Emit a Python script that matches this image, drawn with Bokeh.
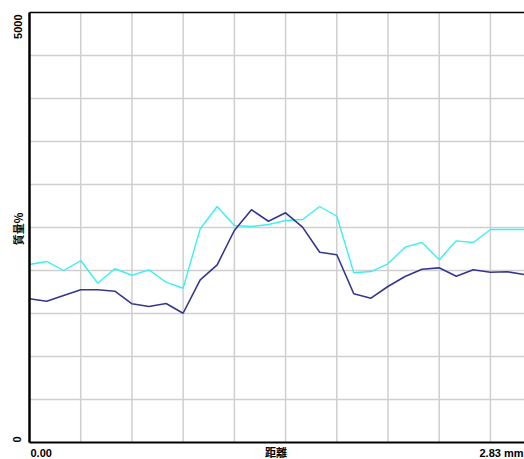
import math
from bokeh.plotting import figure
from bokeh.models import Range1d, Label
from bokeh.embed import file_html
from bokeh.resources import INLINE

# distance along the line scan (mm)
distance = [0.000, 0.098, 0.195, 0.293, 0.390, 0.488, 0.586, 0.683, 0.781, 0.878,
            0.976, 1.073, 1.171, 1.269, 1.366, 1.464, 1.561, 1.659, 1.757, 1.854,
            1.952, 2.049, 2.147, 2.244, 2.342, 2.440, 2.537, 2.635, 2.732, 2.830]

# series values (質量 units)
cyan_series = [2070, 2105, 2000, 2116, 1852, 2020, 1945, 2008, 1864, 1794,
               2485, 2744, 2523, 2512, 2535, 2581, 2593, 2744, 2631, 1973,
               1988, 2078, 2271, 2326, 2124, 2345, 2326, 2477, 2477, 2477]
navy_series = [1671, 1643, 1709, 1776, 1776, 1759, 1613, 1581, 1616, 1503,
               1892, 2066, 2465, 2706, 2573, 2671, 2504, 2213, 2183, 1729,
               1678, 1814, 1930, 2015, 2031, 1934, 2008, 1980, 1985, 1953]

x_grid = [0.2928 * k for k in range(1, 10)]
y_grid = [500, 1000, 1500, 2000, 2500, 3000, 3500, 4000, 4500]

x_min, x_max = 0.0, 2.83
y_min, y_max = 0, 5000
x_tick_labels = ["0.00", "2.83 mm"]
y_tick_labels = ["0", "5000"]
x_title = "距離"
y_title = "質量%"

# page geometry: plotting area inside the 524x459 canvas
W, H = 524, 459
left_px, top_px, bottom_px = 29, 12, 17
dx = (x_max - x_min) / (W - left_px)
dy = (y_max - y_min) / (H - top_px - bottom_px)

p = figure(width=W, height=H, output_backend="svg", toolbar_location=None,
           x_range=Range1d(x_min - left_px * dx, x_max),
           y_range=Range1d(y_min - bottom_px * dy, y_max + top_px * dy),
           min_border=0, min_border_left=0, min_border_right=0,
           min_border_top=0, min_border_bottom=0,
           background_fill_color="white", border_fill_color="white")
p.outline_line_color = None
p.xaxis.visible = False
p.yaxis.visible = False
p.grid.visible = False

grid_color = "#cfcfcf"
p.segment(x0=x_grid, y0=[y_min] * len(x_grid), x1=x_grid, y1=[y_max] * len(x_grid),
          line_color=grid_color, line_width=1.5)
p.segment(x0=[x_min] * len(y_grid), y0=y_grid, x1=[x_max] * len(y_grid), y1=y_grid,
          line_color=grid_color, line_width=1.5)

p.line(distance, cyan_series, line_color="#3CF0F0", line_width=1.4)
p.line(distance, navy_series, line_color="#36368F", line_width=1.6)

# frame lines: bottom, top, left
p.segment(x0=[x_min], y0=[y_min], x1=[x_max], y1=[y_min], line_color="black", line_width=2)
p.segment(x0=[x_min], y0=[y_max], x1=[x_max], y1=[y_max], line_color="black", line_width=1.5)
p.segment(x0=[x_min], y0=[y_min], x1=[x_min], y1=[y_max], line_color="black", line_width=2.5)

font = "Liberation Sans"
fs = "11px"

def lab(x, y, xo, yo, text, align, angle=0.0, f=font):
    p.add_layout(Label(x=x, y=y, x_offset=xo, y_offset=yo, text=text,
                       angle=angle, text_align=align, text_baseline="middle",
                       text_font=f, text_font_size=fs, text_font_style="bold",
                       text_color="black"))

lab(x_min, y_min, 1, -10, x_tick_labels[0], "left")
lab(x_max, y_min, -1, -10, x_tick_labels[1], "right")
lab(1.409, y_min, 0, -9, x_title, "center", f="Noto Sans CJK JP")
lab(x_min, y_min, -13, 0, y_tick_labels[0], "left", math.pi / 2)
lab(x_min, y_max, -12, -2, y_tick_labels[1], "right", math.pi / 2)
lab(x_min, 2483, -12, 0, y_title, "center", math.pi / 2, f="Noto Sans CJK JP")

open("out.html", "w").write(file_html(p, INLINE))
